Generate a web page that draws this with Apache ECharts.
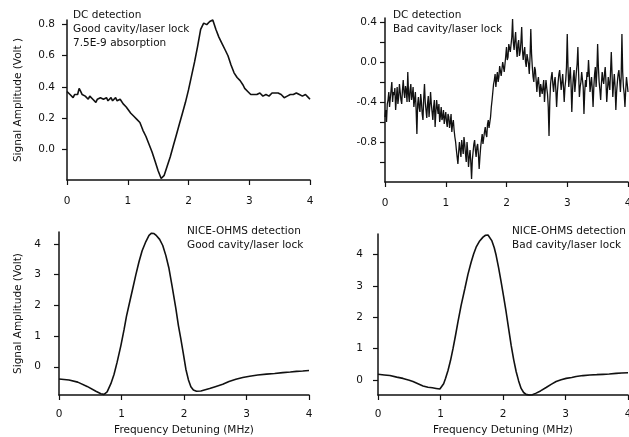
<!DOCTYPE html>
<html>
<head>
<meta charset="utf-8">
<script src="https://cdn.jsdelivr.net/npm/echarts@6/dist/echarts.min.js"></script>
<style>
html,body{margin:0;padding:0;background:#fff;}
#chart{width:629px;height:437px;}
</style>
</head>
<body>
<div id="chart"></div>
<script>
// ---- Data (x = frequency detuning MHz, y = signal amplitude V) ----
const dcGood = [[0,0.37],[0.025,0.36],[0.05,0.35],[0.075,0.34],[0.1,0.33],[0.125,0.35],[0.15,0.36],[0.175,0.35],[0.2,0.39],[0.225,0.37],[0.25,0.35],[0.275,0.36],[0.3,0.34],[0.325,0.33],[0.35,0.32],[0.375,0.34],[0.4,0.33],[0.425,0.32],[0.45,0.31],[0.475,0.30],[0.5,0.32],[0.525,0.31],[0.55,0.33],[0.575,0.32],[0.6,0.32],[0.625,0.33],[0.65,0.33],[0.675,0.31],[0.7,0.32],[0.725,0.33],[0.75,0.31],[0.775,0.32],[0.8,0.33],[0.825,0.31],[0.85,0.30],[0.875,0.32],[0.9,0.31],[0.925,0.29],[0.95,0.28],[0.975,0.27],[1.0,0.26],[1.05,0.23],[1.1,0.21],[1.15,0.19],[1.2,0.17],[1.25,0.12],[1.3,0.08],[1.35,0.03],[1.4,-0.02],[1.45,-0.08],[1.5,-0.14],[1.55,-0.19],[1.6,-0.17],[1.65,-0.11],[1.7,-0.05],[1.75,0.02],[1.8,0.09],[1.85,0.16],[1.9,0.23],[1.95,0.30],[2.0,0.38],[2.05,0.47],[2.1,0.56],[2.15,0.66],[2.2,0.77],[2.25,0.81],[2.3,0.80],[2.35,0.82],[2.4,0.83],[2.45,0.77],[2.5,0.72],[2.55,0.68],[2.6,0.64],[2.65,0.60],[2.7,0.54],[2.75,0.49],[2.8,0.46],[2.85,0.44],[2.9,0.41],[2.925,0.39],[2.95,0.38],[2.975,0.37],[3.0,0.36],[3.025,0.35],[3.05,0.34],[3.075,0.35],[3.1,0.36],[3.125,0.35],[3.15,0.34],[3.175,0.36],[3.2,0.35],[3.225,0.34],[3.25,0.33],[3.275,0.35],[3.3,0.36],[3.325,0.34],[3.35,0.35],[3.375,0.36],[3.4,0.37],[3.425,0.36],[3.45,0.35],[3.475,0.36],[3.5,0.36],[3.525,0.35],[3.55,0.34],[3.575,0.33],[3.6,0.33],[3.625,0.34],[3.65,0.34],[3.675,0.35],[3.7,0.36],[3.725,0.35],[3.75,0.35],[3.775,0.36],[3.8,0.36],[3.825,0.35],[3.85,0.35],[3.875,0.34],[3.9,0.34],[3.925,0.35],[3.95,0.34],[3.975,0.33],[4.0,0.32]];

const dcBad = [[0,-0.55],[0.0125,-0.48],[0.025,-0.60],[0.0375,-0.42],[0.05,-0.38],[0.0625,-0.30],[0.075,-0.45],[0.0875,-0.36],[0.1,-0.28],[0.1125,-0.20],[0.125,-0.40],[0.1375,-0.30],[0.15,-0.33],[0.1625,-0.26],[0.175,-0.48],[0.1875,-0.36],[0.2,-0.25],[0.2125,-0.42],[0.225,-0.35],[0.2375,-0.22],[0.25,-0.30],[0.2625,-0.38],[0.275,-0.42],[0.2875,-0.28],[0.3,-0.18],[0.3125,-0.30],[0.325,-0.36],[0.3375,-0.24],[0.35,-0.28],[0.3625,-0.40],[0.375,-0.10],[0.3875,-0.32],[0.4,-0.40],[0.4125,-0.28],[0.425,-0.22],[0.4375,-0.38],[0.45,-0.33],[0.4625,-0.25],[0.475,-0.45],[0.4875,-0.38],[0.5,-0.30],[0.5125,-0.48],[0.525,-0.72],[0.5375,-0.42],[0.55,-0.35],[0.5625,-0.46],[0.575,-0.50],[0.5875,-0.32],[0.6,-0.40],[0.6125,-0.52],[0.625,-0.58],[0.6375,-0.36],[0.65,-0.22],[0.6625,-0.40],[0.675,-0.48],[0.6875,-0.56],[0.7,-0.42],[0.7125,-0.34],[0.725,-0.55],[0.7375,-0.44],[0.75,-0.30],[0.7625,-0.42],[0.775,-0.50],[0.7875,-0.58],[0.8,-0.45],[0.8125,-0.38],[0.825,-0.65],[0.8375,-0.50],[0.85,-0.38],[0.8625,-0.46],[0.875,-0.52],[0.8875,-0.42],[0.9,-0.60],[0.9125,-0.54],[0.925,-0.45],[0.9375,-0.58],[0.95,-0.55],[0.9625,-0.48],[0.975,-0.62],[0.9875,-0.55],[1.0,-0.50],[1.0125,-0.60],[1.025,-0.65],[1.0375,-0.52],[1.05,-0.55],[1.0625,-0.66],[1.075,-0.60],[1.0875,-0.52],[1.1,-0.70],[1.1125,-0.62],[1.125,-0.58],[1.1375,-0.68],[1.15,-0.75],[1.1625,-0.80],[1.175,-0.88],[1.1875,-0.95],[1.2,-1.02],[1.2125,-0.90],[1.225,-0.80],[1.2375,-0.88],[1.25,-0.95],[1.2625,-0.78],[1.275,-0.85],[1.2875,-0.92],[1.3,-0.75],[1.3125,-0.82],[1.325,-0.92],[1.3375,-1.00],[1.35,-0.80],[1.3625,-0.90],[1.375,-1.05],[1.3875,-0.95],[1.4,-0.88],[1.4125,-1.00],[1.425,-1.17],[1.4375,-0.98],[1.45,-0.90],[1.4625,-0.82],[1.475,-0.78],[1.4875,-0.88],[1.5,-0.95],[1.5125,-0.85],[1.525,-0.82],[1.5375,-0.92],[1.55,-1.07],[1.5625,-0.95],[1.575,-0.85],[1.5875,-0.78],[1.6,-0.72],[1.6125,-0.82],[1.625,-0.80],[1.6375,-0.70],[1.65,-0.65],[1.6625,-0.72],[1.675,-0.75],[1.6875,-0.62],[1.7,-0.58],[1.7125,-0.66],[1.725,-0.65],[1.7375,-0.55],[1.75,-0.45],[1.7625,-0.38],[1.775,-0.30],[1.7875,-0.22],[1.8,-0.18],[1.8125,-0.12],[1.825,-0.25],[1.8375,-0.16],[1.85,-0.10],[1.8625,-0.20],[1.875,-0.15],[1.8875,-0.04],[1.9,-0.05],[1.9125,-0.14],[1.925,-0.12],[1.9375,0.00],[1.95,0.02],[1.9625,-0.10],[1.975,-0.08],[1.9875,0.06],[2.0,0.15],[2.0125,0.02],[2.025,0.05],[2.0375,0.18],[2.05,0.20],[2.0625,0.10],[2.075,0.08],[2.0875,0.25],[2.1,0.43],[2.1125,0.20],[2.125,0.12],[2.1375,0.22],[2.15,0.30],[2.1625,0.14],[2.175,0.05],[2.1875,0.18],[2.2,0.22],[2.2125,0.06],[2.225,0.10],[2.2375,0.20],[2.25,0.35],[2.2625,0.12],[2.275,0.02],[2.2875,0.10],[2.3,0.15],[2.3125,0.00],[2.325,-0.05],[2.3375,0.08],[2.35,0.10],[2.3625,-0.02],[2.375,-0.12],[2.3875,0.05],[2.4,0.33],[2.4125,0.08],[2.425,-0.05],[2.4375,-0.15],[2.45,-0.20],[2.4625,-0.05],[2.475,-0.08],[2.4875,-0.18],[2.5,-0.30],[2.5125,-0.20],[2.525,-0.15],[2.5375,-0.25],[2.55,-0.35],[2.5625,-0.22],[2.575,-0.20],[2.5875,-0.32],[2.6,-0.25],[2.6125,-0.18],[2.625,-0.40],[2.6375,-0.28],[2.65,-0.18],[2.6625,-0.26],[2.675,-0.32],[2.6875,-0.45],[2.7,-0.74],[2.7125,-0.40],[2.725,-0.22],[2.7375,-0.15],[2.75,-0.10],[2.7625,-0.22],[2.775,-0.30],[2.7875,-0.20],[2.8,-0.15],[2.8125,-0.28],[2.825,-0.45],[2.8375,-0.30],[2.85,-0.20],[2.8625,-0.12],[2.875,-0.08],[2.8875,-0.18],[2.9,-0.28],[2.9125,-0.20],[2.925,-0.12],[2.9375,-0.25],[2.95,-0.40],[2.9625,-0.25],[2.975,-0.18],[2.9875,-0.05],[3.0,0.28],[3.0125,-0.05],[3.025,-0.25],[3.0375,-0.15],[3.05,-0.05],[3.0625,-0.22],[3.075,-0.50],[3.0875,-0.28],[3.1,-0.15],[3.1125,-0.08],[3.125,-0.30],[3.1375,-0.20],[3.15,-0.10],[3.1625,-0.02],[3.175,0.15],[3.1875,-0.12],[3.2,-0.35],[3.2125,-0.25],[3.225,-0.20],[3.2375,-0.10],[3.25,-0.08],[3.2625,-0.25],[3.275,-0.52],[3.2875,-0.30],[3.3,-0.18],[3.3125,-0.25],[3.325,-0.10],[3.3375,-0.15],[3.35,0.02],[3.3625,-0.12],[3.375,-0.30],[3.3875,-0.22],[3.4,-0.15],[3.4125,-0.28],[3.425,-0.45],[3.4375,-0.25],[3.45,-0.12],[3.4625,-0.05],[3.475,-0.25],[3.4875,-0.10],[3.5,0.18],[3.5125,-0.05],[3.525,-0.20],[3.5375,-0.28],[3.55,-0.38],[3.5625,-0.22],[3.575,-0.10],[3.5875,-0.18],[3.6,-0.22],[3.6125,-0.12],[3.625,-0.05],[3.6375,-0.20],[3.65,-0.40],[3.6625,-0.28],[3.675,-0.15],[3.6875,-0.22],[3.7,-0.28],[3.7125,-0.10],[3.725,0.10],[3.7375,-0.12],[3.75,-0.35],[3.7625,-0.22],[3.775,-0.12],[3.7875,-0.25],[3.8,-0.48],[3.8125,-0.30],[3.825,-0.20],[3.8375,-0.12],[3.85,-0.08],[3.8625,-0.18],[3.875,-0.30],[3.8875,-0.15],[3.9,0.28],[3.9125,-0.10],[3.925,-0.25],[3.9375,-0.32],[3.95,-0.45],[3.9625,-0.28],[3.975,-0.15],[3.9875,-0.22],[4.0,-0.30]];

const niceGood = [[0,-0.40],[0.16,-0.43],[0.3,-0.50],[0.45,-0.64],[0.59,-0.80],[0.67,-0.88],[0.72,-0.90],[0.77,-0.82],[0.83,-0.55],[0.88,-0.25],[0.93,0.15],[0.99,0.69],[1.04,1.2],[1.08,1.65],[1.13,2.1],[1.18,2.55],[1.23,3.0],[1.28,3.42],[1.33,3.78],[1.39,4.08],[1.44,4.28],[1.48,4.35],[1.52,4.34],[1.56,4.27],[1.61,4.15],[1.66,3.95],[1.71,3.62],[1.76,3.2],[1.81,2.62],[1.87,1.89],[1.91,1.35],[1.95,0.9],[1.99,0.42],[2.03,-0.08],[2.07,-0.42],[2.11,-0.65],[2.15,-0.76],[2.2,-0.80],[2.27,-0.79],[2.34,-0.75],[2.41,-0.71],[2.5,-0.65],[2.62,-0.57],[2.72,-0.48],[2.83,-0.41],[2.94,-0.35],[3.05,-0.31],[3.18,-0.27],[3.32,-0.24],[3.45,-0.22],[3.58,-0.19],[3.7,-0.17],[3.8,-0.15],[3.9,-0.14],[4.0,-0.12]];

const niceBad = [[0,0.18],[0.1,0.16],[0.19,0.14],[0.3,0.09],[0.4,0.05],[0.5,-0.01],[0.56,-0.05],[0.64,-0.12],[0.72,-0.19],[0.8,-0.23],[0.87,-0.25],[0.93,-0.27],[0.99,-0.29],[1.02,-0.24],[1.05,-0.12],[1.08,0.05],[1.12,0.30],[1.16,0.62],[1.2,1.0],[1.24,1.42],[1.28,1.86],[1.33,2.38],[1.39,2.92],[1.44,3.38],[1.49,3.76],[1.53,4.02],[1.57,4.24],[1.62,4.42],[1.68,4.56],[1.72,4.62],[1.76,4.63],[1.79,4.58],[1.82,4.45],[1.86,4.22],[1.89,3.98],[1.93,3.58],[1.97,3.13],[2.01,2.66],[2.05,2.17],[2.09,1.64],[2.13,1.11],[2.17,0.66],[2.21,0.27],[2.25,-0.03],[2.29,-0.27],[2.33,-0.40],[2.37,-0.46],[2.42,-0.48],[2.47,-0.47],[2.53,-0.42],[2.6,-0.35],[2.69,-0.24],[2.77,-0.14],[2.85,-0.05],[2.93,0.01],[3.01,0.05],[3.1,0.08],[3.17,0.11],[3.28,0.14],[3.39,0.16],[3.5,0.17],[3.6,0.18],[3.7,0.19],[3.81,0.21],[3.9,0.22],[4.0,0.23]];

// ---- Tick values ----
const xTicks = [0, 1, 2, 3, 4];
const yTicksDcGood = [0, 0.2, 0.4, 0.6, 0.8];
const yTicksDcBad = [-1.0, -0.8, -0.6, -0.4, -0.2, 0, 0.2, 0.4];
const yLabelsDcBad = [-0.8, -0.4, 0, 0.4];
const yTicksNice = [0, 1, 2, 3, 4];

// ---- Texts ----
const notesDcGood = ['DC detection', 'Good cavity/laser lock', '7.5E-9 absorption'];
const notesDcBad = ['DC detection', 'Bad cavity/laser lock'];
const notesNiceGood = ['NICE-OHMS detection', 'Good cavity/laser lock'];
const notesNiceBad = ['NICE-OHMS detection', 'Bad cavity/laser lock'];
const yTitleTop = 'Signal Amplitude (Volt )';
const yTitleBottom = 'Signal Amplitude (Volt)';
const xTitle = 'Frequency Detuning (MHz)';

const FONT = 'DejaVu Sans';
const FS = 10.5;
const INK = '#111';

function xAxisCfg(gi, labelMargin, name) {
  return {
    type: 'value', gridIndex: gi, min: 0, max: 4, interval: 1,
    axisLine: { show: true, onZero: false, lineStyle: { color: INK, width: 1.5 } },
    axisTick: { show: true, length: 5, customValues: xTicks, lineStyle: { color: INK, width: 1.2 } },
    axisLabel: { margin: labelMargin, customValues: xTicks, fontFamily: FONT, fontSize: FS, color: INK },
    splitLine: { show: false },
    name: name || '', nameLocation: 'middle', nameGap: 30,
    nameTextStyle: { fontFamily: FONT, fontSize: FS, color: INK }
  };
}
function yAxisCfg(gi, min, max, ticks, labels, labelMargin, fmt, name, nameGap) {
  return {
    type: 'value', gridIndex: gi, min: min, max: max,
    axisLine: { show: true, onZero: false, lineStyle: { color: INK, width: 1.5 } },
    axisTick: { show: true, length: 5, customValues: ticks, lineStyle: { color: INK, width: 1.2 } },
    axisLabel: { margin: labelMargin, customValues: labels, formatter: fmt, fontFamily: FONT, fontSize: FS, color: INK },
    splitLine: { show: false },
    name: name || '', nameLocation: 'middle', nameGap: nameGap || 30,
    nameTextStyle: { fontFamily: FONT, fontSize: FS, color: INK }
  };
}
const fmt1 = v => (Math.abs(v) < 1e-9 ? 0 : v).toFixed(1);
const fmt0 = v => String(Math.round(v));

function notes(lines, x, y0, dy) {
  return lines.map((t, i) => ({
    type: 'text', x: x, y: y0 + i * dy, silent: true,
    style: { text: t, font: FS + 'px "' + FONT + '"', fill: INK, verticalAlign: 'middle', align: 'left' }
  }));
}

const chart = echarts.init(document.getElementById('chart'), null, { renderer: 'canvas' });
const lineSeries = (i, data, w) => ({
  type: 'line', xAxisIndex: i, yAxisIndex: i, data: data, showSymbol: false, symbol: 'none',
  lineStyle: { color: INK, width: w || 1.5 }, animation: false, clip: false
});

chart.setOption({
  animation: false,
  backgroundColor: '#fff',
  grid: [
    { left: 67, top: 20, width: 243, height: 160, outerBoundsMode: 'none' },
    { left: 385, top: 18, width: 243, height: 164, outerBoundsMode: 'none' },
    { left: 59, top: 232, width: 250, height: 163, outerBoundsMode: 'none' },
    { left: 378, top: 234, width: 250, height: 161, outerBoundsMode: 'none' }
  ],
  xAxis: [
    xAxisCfg(0, 16),
    xAxisCfg(1, 16),
    xAxisCfg(2, 14, xTitle),
    xAxisCfg(3, 14, xTitle)
  ],
  yAxis: [
    yAxisCfg(0, -0.2, 0.83, yTicksDcGood, yTicksDcGood, 12, fmt1, yTitleTop, 43),
    yAxisCfg(1, -1.2, 0.44, yTicksDcBad, yLabelsDcBad, 8, fmt1),
    yAxisCfg(2, -0.92, 4.39, yTicksNice, yTicksNice, 18, fmt0, yTitleBottom, 35),
    yAxisCfg(3, -0.48, 4.66, yTicksNice, yTicksNice, 15, fmt0)
  ],
  series: [
    lineSeries(0, dcGood, 1.6),
    lineSeries(1, dcBad, 1.3),
    lineSeries(2, niceGood, 1.6),
    lineSeries(3, niceBad, 1.6)
  ],
  graphic: [].concat(
    notes(notesDcGood, 73, 15, 14),
    notes(notesDcBad, 393, 15, 14.5),
    notes(notesNiceGood, 187, 231, 14),
    notes(notesNiceBad, 512, 231, 14)
  )
});
</script>
</body>
</html>
